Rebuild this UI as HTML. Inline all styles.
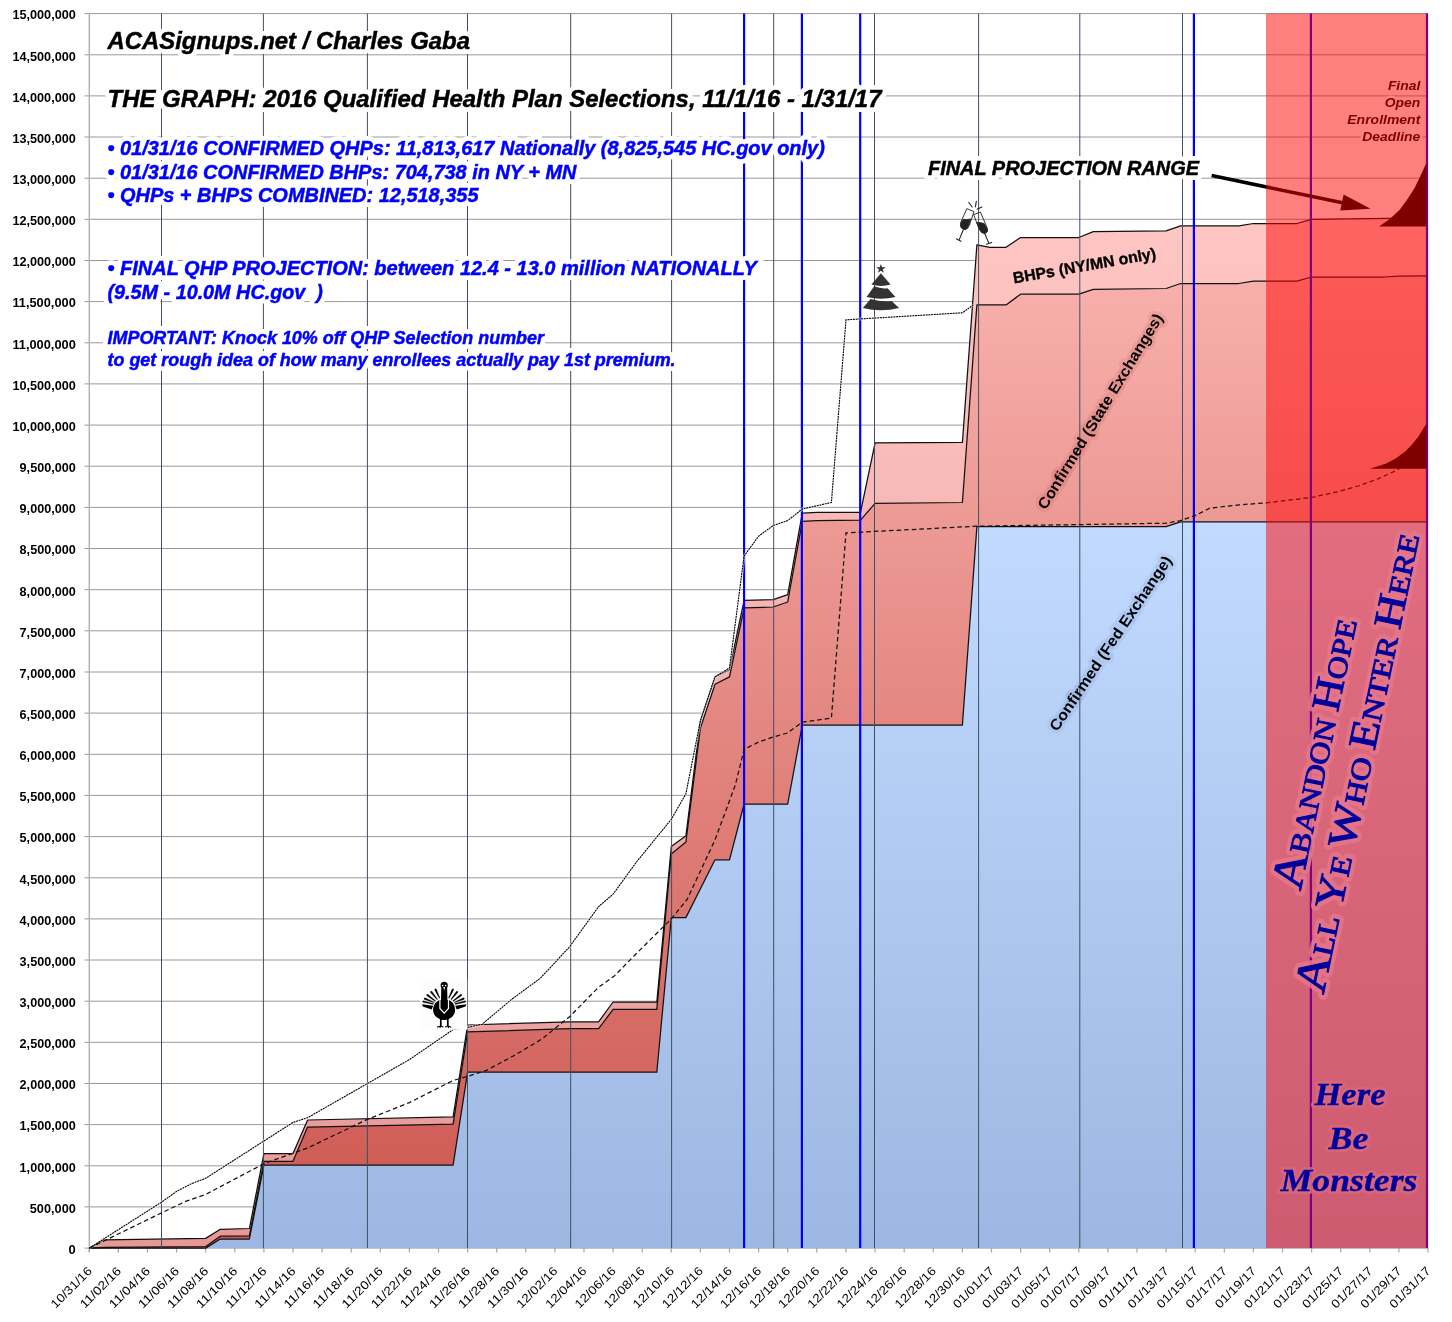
<!DOCTYPE html>
<html><head><meta charset="utf-8"><title>THE GRAPH</title>
<style>
html,body{margin:0;padding:0;background:#fff}
svg{display:block}
text{font-family:"Liberation Sans",Arial,sans-serif}
.yl{font-weight:bold;font-size:12.1px;fill:#000;text-anchor:end}
.xl{font-size:12px;fill:#000;text-anchor:end}
.halo{paint-order:stroke;stroke:#fff;stroke-width:7px;stroke-linejoin:round}
.bi{font-weight:bold;font-style:italic}
.pir{font-family:"Liberation Serif","DejaVu Serif",serif;font-weight:bold;fill:#00009b}
</style></head><body>
<svg width="1452" height="1322" viewBox="0 0 1452 1322">
<defs>
<linearGradient id="gb" x1="0" y1="0" x2="0" y2="1"><stop offset="0" stop-color="#c2dafe"/><stop offset="1" stop-color="#9cb7e2"/></linearGradient>
<linearGradient id="gr" x1="0" y1="0" x2="0" y2="1"><stop offset="0" stop-color="#f8b0ac"/><stop offset="1" stop-color="#cc564f"/></linearGradient>
<linearGradient id="gp" x1="0" y1="0" x2="0" y2="1"><stop offset="0" stop-color="#fec6c3"/><stop offset="1" stop-color="#e79896"/></linearGradient>
</defs>
<rect width="1452" height="1322" fill="#fff"/>

<line x1="84.5" y1="1248.1" x2="1428" y2="1248.1" stroke="#9a9a9a" stroke-width="1"/>
<line x1="84.5" y1="1206.9" x2="1428" y2="1206.9" stroke="#9a9a9a" stroke-width="1"/>
<line x1="84.5" y1="1165.8" x2="1428" y2="1165.8" stroke="#9a9a9a" stroke-width="1"/>
<line x1="84.5" y1="1124.6" x2="1428" y2="1124.6" stroke="#9a9a9a" stroke-width="1"/>
<line x1="84.5" y1="1083.5" x2="1428" y2="1083.5" stroke="#9a9a9a" stroke-width="1"/>
<line x1="84.5" y1="1042.3" x2="1428" y2="1042.3" stroke="#9a9a9a" stroke-width="1"/>
<line x1="84.5" y1="1001.2" x2="1428" y2="1001.2" stroke="#9a9a9a" stroke-width="1"/>
<line x1="84.5" y1="960.0" x2="1428" y2="960.0" stroke="#9a9a9a" stroke-width="1"/>
<line x1="84.5" y1="918.9" x2="1428" y2="918.9" stroke="#9a9a9a" stroke-width="1"/>
<line x1="84.5" y1="877.8" x2="1428" y2="877.8" stroke="#9a9a9a" stroke-width="1"/>
<line x1="84.5" y1="836.6" x2="1428" y2="836.6" stroke="#9a9a9a" stroke-width="1"/>
<line x1="84.5" y1="795.4" x2="1428" y2="795.4" stroke="#9a9a9a" stroke-width="1"/>
<line x1="84.5" y1="754.3" x2="1428" y2="754.3" stroke="#9a9a9a" stroke-width="1"/>
<line x1="84.5" y1="713.1" x2="1428" y2="713.1" stroke="#9a9a9a" stroke-width="1"/>
<line x1="84.5" y1="672.0" x2="1428" y2="672.0" stroke="#9a9a9a" stroke-width="1"/>
<line x1="84.5" y1="630.8" x2="1428" y2="630.8" stroke="#9a9a9a" stroke-width="1"/>
<line x1="84.5" y1="589.7" x2="1428" y2="589.7" stroke="#9a9a9a" stroke-width="1"/>
<line x1="84.5" y1="548.5" x2="1428" y2="548.5" stroke="#9a9a9a" stroke-width="1"/>
<line x1="84.5" y1="507.4" x2="1428" y2="507.4" stroke="#9a9a9a" stroke-width="1"/>
<line x1="84.5" y1="466.2" x2="1428" y2="466.2" stroke="#9a9a9a" stroke-width="1"/>
<line x1="84.5" y1="425.1" x2="1428" y2="425.1" stroke="#9a9a9a" stroke-width="1"/>
<line x1="84.5" y1="383.9" x2="1428" y2="383.9" stroke="#9a9a9a" stroke-width="1"/>
<line x1="84.5" y1="342.8" x2="1428" y2="342.8" stroke="#9a9a9a" stroke-width="1"/>
<line x1="84.5" y1="301.6" x2="1428" y2="301.6" stroke="#9a9a9a" stroke-width="1"/>
<line x1="84.5" y1="260.5" x2="1428" y2="260.5" stroke="#9a9a9a" stroke-width="1"/>
<line x1="84.5" y1="219.3" x2="1428" y2="219.3" stroke="#9a9a9a" stroke-width="1"/>
<line x1="84.5" y1="178.2" x2="1428" y2="178.2" stroke="#9a9a9a" stroke-width="1"/>
<line x1="84.5" y1="137.0" x2="1428" y2="137.0" stroke="#9a9a9a" stroke-width="1"/>
<line x1="84.5" y1="95.9" x2="1428" y2="95.9" stroke="#9a9a9a" stroke-width="1"/>
<line x1="84.5" y1="54.8" x2="1428" y2="54.8" stroke="#9a9a9a" stroke-width="1"/>
<line x1="84.5" y1="13.6" x2="1428" y2="13.6" stroke="#9a9a9a" stroke-width="1"/>
<line x1="89.3" y1="13" x2="89.3" y2="1252" stroke="#b0b0b0" stroke-width="1.4"/>
<line x1="89.3" y1="1248" x2="89.3" y2="1252.5" stroke="#a6a6a6" stroke-width="1.2"/>
<line x1="118.4" y1="1248" x2="118.4" y2="1252.5" stroke="#a6a6a6" stroke-width="1.2"/>
<line x1="147.5" y1="1248" x2="147.5" y2="1252.5" stroke="#a6a6a6" stroke-width="1.2"/>
<line x1="176.6" y1="1248" x2="176.6" y2="1252.5" stroke="#a6a6a6" stroke-width="1.2"/>
<line x1="205.7" y1="1248" x2="205.7" y2="1252.5" stroke="#a6a6a6" stroke-width="1.2"/>
<line x1="234.8" y1="1248" x2="234.8" y2="1252.5" stroke="#a6a6a6" stroke-width="1.2"/>
<line x1="263.9" y1="1248" x2="263.9" y2="1252.5" stroke="#a6a6a6" stroke-width="1.2"/>
<line x1="293.0" y1="1248" x2="293.0" y2="1252.5" stroke="#a6a6a6" stroke-width="1.2"/>
<line x1="322.1" y1="1248" x2="322.1" y2="1252.5" stroke="#a6a6a6" stroke-width="1.2"/>
<line x1="351.2" y1="1248" x2="351.2" y2="1252.5" stroke="#a6a6a6" stroke-width="1.2"/>
<line x1="380.3" y1="1248" x2="380.3" y2="1252.5" stroke="#a6a6a6" stroke-width="1.2"/>
<line x1="409.4" y1="1248" x2="409.4" y2="1252.5" stroke="#a6a6a6" stroke-width="1.2"/>
<line x1="438.5" y1="1248" x2="438.5" y2="1252.5" stroke="#a6a6a6" stroke-width="1.2"/>
<line x1="467.6" y1="1248" x2="467.6" y2="1252.5" stroke="#a6a6a6" stroke-width="1.2"/>
<line x1="496.7" y1="1248" x2="496.7" y2="1252.5" stroke="#a6a6a6" stroke-width="1.2"/>
<line x1="525.8" y1="1248" x2="525.8" y2="1252.5" stroke="#a6a6a6" stroke-width="1.2"/>
<line x1="554.9" y1="1248" x2="554.9" y2="1252.5" stroke="#a6a6a6" stroke-width="1.2"/>
<line x1="584.0" y1="1248" x2="584.0" y2="1252.5" stroke="#a6a6a6" stroke-width="1.2"/>
<line x1="613.1" y1="1248" x2="613.1" y2="1252.5" stroke="#a6a6a6" stroke-width="1.2"/>
<line x1="642.2" y1="1248" x2="642.2" y2="1252.5" stroke="#a6a6a6" stroke-width="1.2"/>
<line x1="671.3" y1="1248" x2="671.3" y2="1252.5" stroke="#a6a6a6" stroke-width="1.2"/>
<line x1="700.4" y1="1248" x2="700.4" y2="1252.5" stroke="#a6a6a6" stroke-width="1.2"/>
<line x1="729.5" y1="1248" x2="729.5" y2="1252.5" stroke="#a6a6a6" stroke-width="1.2"/>
<line x1="758.6" y1="1248" x2="758.6" y2="1252.5" stroke="#a6a6a6" stroke-width="1.2"/>
<line x1="787.7" y1="1248" x2="787.7" y2="1252.5" stroke="#a6a6a6" stroke-width="1.2"/>
<line x1="816.8" y1="1248" x2="816.8" y2="1252.5" stroke="#a6a6a6" stroke-width="1.2"/>
<line x1="846.0" y1="1248" x2="846.0" y2="1252.5" stroke="#a6a6a6" stroke-width="1.2"/>
<line x1="875.1" y1="1248" x2="875.1" y2="1252.5" stroke="#a6a6a6" stroke-width="1.2"/>
<line x1="904.2" y1="1248" x2="904.2" y2="1252.5" stroke="#a6a6a6" stroke-width="1.2"/>
<line x1="933.3" y1="1248" x2="933.3" y2="1252.5" stroke="#a6a6a6" stroke-width="1.2"/>
<line x1="962.4" y1="1248" x2="962.4" y2="1252.5" stroke="#a6a6a6" stroke-width="1.2"/>
<line x1="991.5" y1="1248" x2="991.5" y2="1252.5" stroke="#a6a6a6" stroke-width="1.2"/>
<line x1="1020.6" y1="1248" x2="1020.6" y2="1252.5" stroke="#a6a6a6" stroke-width="1.2"/>
<line x1="1049.7" y1="1248" x2="1049.7" y2="1252.5" stroke="#a6a6a6" stroke-width="1.2"/>
<line x1="1078.8" y1="1248" x2="1078.8" y2="1252.5" stroke="#a6a6a6" stroke-width="1.2"/>
<line x1="1107.9" y1="1248" x2="1107.9" y2="1252.5" stroke="#a6a6a6" stroke-width="1.2"/>
<line x1="1137.0" y1="1248" x2="1137.0" y2="1252.5" stroke="#a6a6a6" stroke-width="1.2"/>
<line x1="1166.1" y1="1248" x2="1166.1" y2="1252.5" stroke="#a6a6a6" stroke-width="1.2"/>
<line x1="1195.2" y1="1248" x2="1195.2" y2="1252.5" stroke="#a6a6a6" stroke-width="1.2"/>
<line x1="1224.3" y1="1248" x2="1224.3" y2="1252.5" stroke="#a6a6a6" stroke-width="1.2"/>
<line x1="1253.4" y1="1248" x2="1253.4" y2="1252.5" stroke="#a6a6a6" stroke-width="1.2"/>
<line x1="1282.5" y1="1248" x2="1282.5" y2="1252.5" stroke="#a6a6a6" stroke-width="1.2"/>
<line x1="1311.6" y1="1248" x2="1311.6" y2="1252.5" stroke="#a6a6a6" stroke-width="1.2"/>
<line x1="1340.7" y1="1248" x2="1340.7" y2="1252.5" stroke="#a6a6a6" stroke-width="1.2"/>
<line x1="1369.8" y1="1248" x2="1369.8" y2="1252.5" stroke="#a6a6a6" stroke-width="1.2"/>
<line x1="1398.9" y1="1248" x2="1398.9" y2="1252.5" stroke="#a6a6a6" stroke-width="1.2"/>
<line x1="1428.0" y1="1248" x2="1428.0" y2="1252.5" stroke="#a6a6a6" stroke-width="1.2"/>
<polygon points="89.3,1248.1 103.9,1239.9 205.7,1238.4 220.3,1229.3 249.4,1228.5 263.9,1153.6 293.0,1153.5 307.6,1120.0 453.1,1116.9 467.6,1025.0 569.5,1021.8 598.6,1021.8 613.1,1002.0 656.8,1002.0 671.3,846.5 685.9,835.8 700.4,720.6 715.0,676.9 729.5,669.5 744.1,600.4 773.2,599.6 787.7,594.6 802.3,513.2 816.8,512.3 860.5,512.3 875.1,442.8 962.4,442.4 976.9,244.9 990.0,247.3 1006.0,247.3 1020.6,237.5 1078.8,237.5 1093.3,231.7 1166.1,230.9 1180.6,225.9 1238.8,225.9 1253.4,223.5 1297.0,223.5 1311.6,219.3 1428.0,217.9 1428.0,275.8 1398.9,276.1 1384.3,277.0 1311.6,277.0 1297.0,281.1 1253.4,281.1 1238.8,283.5 1180.6,283.5 1166.1,288.5 1093.3,289.3 1078.8,294.2 1020.6,294.2 1006.0,304.9 976.9,304.9 962.4,502.5 875.1,503.3 860.5,520.2 816.8,520.6 802.3,521.4 787.7,602.0 773.2,607.0 744.1,607.8 729.5,676.9 715.0,684.3 700.4,728.0 685.9,842.0 671.3,853.9 656.8,1009.4 613.1,1009.4 598.6,1028.7 569.5,1028.7 467.6,1031.8 453.1,1124.1 307.6,1127.1 293.0,1161.3 263.9,1161.3 249.4,1235.8 220.3,1236.2 205.7,1246.5 103.9,1247.3 89.3,1248.1" fill="url(#gp)"/>
<polygon points="89.3,1248.1 103.9,1247.3 205.7,1246.5 220.3,1236.2 249.4,1235.8 263.9,1161.3 293.0,1161.3 307.6,1127.1 453.1,1124.1 467.6,1031.8 569.5,1028.7 598.6,1028.7 613.1,1009.4 656.8,1009.4 671.3,853.9 685.9,842.0 700.4,728.0 715.0,684.3 729.5,676.9 744.1,607.8 773.2,607.0 787.7,602.0 802.3,521.4 816.8,520.6 860.5,520.2 875.1,503.3 962.4,502.5 976.9,304.9 1006.0,304.9 1020.6,294.2 1078.8,294.2 1093.3,289.3 1166.1,288.5 1180.6,283.5 1238.8,283.5 1253.4,281.1 1297.0,281.1 1311.6,277.0 1384.3,277.0 1398.9,276.1 1428.0,275.8 1428.0,521.8 1180.6,521.8 1166.1,526.6 976.9,526.6 962.4,725.0 802.3,725.0 787.7,804.0 744.1,804.0 729.5,859.8 715.0,859.8 685.9,917.6 671.3,917.6 656.8,1072.2 467.6,1072.2 453.1,1165.1 263.9,1165.1 249.4,1239.0 220.3,1239.0 205.7,1248.1 89.3,1248.1" fill="url(#gr)"/>
<polygon points="89.3,1248.1 205.7,1248.1 220.3,1239.0 249.4,1239.0 263.9,1165.1 453.1,1165.1 467.6,1072.2 656.8,1072.2 671.3,917.6 685.9,917.6 715.0,859.8 729.5,859.8 744.1,804.0 787.7,804.0 802.3,725.0 962.4,725.0 976.9,526.6 1166.1,526.6 1180.6,521.8 1428.0,521.8 1428.0,1248.1 89.3,1248.1" fill="url(#gb)"/>
<polyline points="89.3,1248.1 103.9,1239.9 205.7,1238.4 220.3,1229.3 249.4,1228.5 263.9,1153.6 293.0,1153.5 307.6,1120.0 453.1,1116.9 467.6,1025.0 569.5,1021.8 598.6,1021.8 613.1,1002.0 656.8,1002.0 671.3,846.5 685.9,835.8 700.4,720.6 715.0,676.9 729.5,669.5 744.1,600.4 773.2,599.6 787.7,594.6 802.3,513.2 816.8,512.3 860.5,512.3 875.1,442.8 962.4,442.4 976.9,244.9 990.0,247.3 1006.0,247.3 1020.6,237.5 1078.8,237.5 1093.3,231.7 1166.1,230.9 1180.6,225.9 1238.8,225.9 1253.4,223.5 1297.0,223.5 1311.6,219.3 1428.0,217.9" fill="none" stroke="#111" stroke-width="1.25" stroke-linejoin="round"/>
<polyline points="89.3,1248.1 103.9,1247.3 205.7,1246.5 220.3,1236.2 249.4,1235.8 263.9,1161.3 293.0,1161.3 307.6,1127.1 453.1,1124.1 467.6,1031.8 569.5,1028.7 598.6,1028.7 613.1,1009.4 656.8,1009.4 671.3,853.9 685.9,842.0 700.4,728.0 715.0,684.3 729.5,676.9 744.1,607.8 773.2,607.0 787.7,602.0 802.3,521.4 816.8,520.6 860.5,520.2 875.1,503.3 962.4,502.5 976.9,304.9 1006.0,304.9 1020.6,294.2 1078.8,294.2 1093.3,289.3 1166.1,288.5 1180.6,283.5 1238.8,283.5 1253.4,281.1 1297.0,281.1 1311.6,277.0 1384.3,277.0 1398.9,276.1 1428.0,275.8" fill="none" stroke="#111" stroke-width="1.25" stroke-linejoin="round"/>
<polyline points="89.3,1248.1 205.7,1248.1 220.3,1239.0 249.4,1239.0 263.9,1165.1 453.1,1165.1 467.6,1072.2 656.8,1072.2 671.3,917.6 685.9,917.6 715.0,859.8 729.5,859.8 744.1,804.0 787.7,804.0 802.3,725.0 962.4,725.0 976.9,526.6 1166.1,526.6 1180.6,521.8 1428.0,521.8" fill="none" stroke="#111" stroke-width="1.25" stroke-linejoin="round"/>
<line x1="161.5" y1="13.6" x2="161.5" y2="1248" stroke="#3f4f63" stroke-width="1"/>
<line x1="263.4" y1="13.6" x2="263.4" y2="1248" stroke="#3f4f63" stroke-width="1"/>
<line x1="367.4" y1="13.6" x2="367.4" y2="1248" stroke="#3f4f63" stroke-width="1"/>
<line x1="467.5" y1="13.6" x2="467.5" y2="1248" stroke="#3f4f63" stroke-width="1"/>
<line x1="570.7" y1="13.6" x2="570.7" y2="1248" stroke="#3f4f63" stroke-width="1"/>
<line x1="671.6" y1="13.6" x2="671.6" y2="1248" stroke="#3f4f63" stroke-width="1"/>
<line x1="773.7" y1="13.6" x2="773.7" y2="1248" stroke="#3f4f63" stroke-width="1"/>
<line x1="874.5" y1="13.6" x2="874.5" y2="1248" stroke="#3f4f63" stroke-width="1"/>
<line x1="978.6" y1="13.6" x2="978.6" y2="1248" stroke="#3f4f63" stroke-width="1"/>
<line x1="1079.8" y1="13.6" x2="1079.8" y2="1248" stroke="#3f4f63" stroke-width="1"/>
<line x1="1182.5" y1="13.6" x2="1182.5" y2="1248" stroke="#3f4f63" stroke-width="1"/>
<line x1="744.1" y1="13.6" x2="744.1" y2="1248" stroke="#0000ff" stroke-width="2.2"/>
<line x1="801.9" y1="13.6" x2="801.9" y2="1248" stroke="#0000ff" stroke-width="2.2"/>
<line x1="860.2" y1="13.6" x2="860.2" y2="1248" stroke="#0000ff" stroke-width="2.2"/>
<line x1="1193.9" y1="13.6" x2="1193.9" y2="1248" stroke="#0000ff" stroke-width="2.2"/>
<line x1="1310.9" y1="13.6" x2="1310.9" y2="1248" stroke="#0000ff" stroke-width="2.2"/>
<line x1="1427.0" y1="13.6" x2="1427.0" y2="1248" stroke="#0000ff" stroke-width="2.2"/>
<polyline points="89.3,1248.1 162.1,1201.8 176.6,1191.4 191.2,1183.8 205.7,1178.3 293.0,1122.4 307.6,1117.7 409.4,1059.6 453.1,1029.6 467.6,1027.5 482.2,1024.2 511.3,999.6 540.4,978.2 569.5,946.9 598.6,906.6 613.1,894.2 636.4,862.1 671.3,819.3 685.9,793.8 700.4,720.6 715.0,676.9 729.5,667.9 744.1,556.0 758.6,536.2 773.2,525.5 787.7,520.6 802.3,509.0 831.4,502.5 846.0,319.8 962.4,312.8 973.3,304.9" fill="none" stroke="#fff" stroke-width="3" opacity="0.5"/>
<polyline points="89.3,1248.1 162.1,1201.8 176.6,1191.4 191.2,1183.8 205.7,1178.3 293.0,1122.4 307.6,1117.7 409.4,1059.6 453.1,1029.6 467.6,1027.5 482.2,1024.2 511.3,999.6 540.4,978.2 569.5,946.9 598.6,906.6 613.1,894.2 636.4,862.1 671.3,819.3 685.9,793.8 700.4,720.6 715.0,676.9 729.5,667.9 744.1,556.0 758.6,536.2 773.2,525.5 787.7,520.6 802.3,509.0 831.4,502.5 846.0,319.8 962.4,312.8 973.3,304.9" fill="none" stroke="#000" stroke-width="1.1" stroke-dasharray="2,0.7"/>
<polyline points="89.3,1248.1 162.1,1212.6 186.1,1201.2 205.7,1194.4 263.9,1163.7 307.6,1148.0 368.0,1119.1 409.4,1102.6 453.1,1080.5 467.6,1076.4 486.5,1070.3 514.2,1055.5 541.8,1039.1 569.5,1016.8 598.6,987.2 614.6,975.7 636.4,953.5 671.3,918.9 687.3,899.1 715.0,839.9 735.4,784.8 744.1,749.4 758.6,742.0 773.2,737.0 787.7,732.9 802.3,722.2 831.4,718.1 846.0,532.9 976.9,526.2 1166.1,523.2 1180.6,520.6 1195.2,515.6 1209.7,508.2 1238.8,504.9 1266.5,502.8 1311.6,497.5 1337.2,491.8 1358.0,486.0 1378.5,478.6 1397.4,470.0 1413.4,458.0 1425.8,445.7" fill="none" stroke="#111" stroke-width="1.25" stroke-dasharray="4.6,3"/>
<path d="M1379.1,226.6 L1390.1,218.7 L1399.9,209.6 L1407.5,199 L1414.3,188.4 L1419.6,177.8 L1426.5,162.5 L1426.5,226.6 Z" fill="#000"/>
<path d="M1370,468.7 L1386.3,463.5 L1396,458.2 L1405.2,451.4 L1412,444.6 L1418.1,437.1 L1426.5,423.5 L1426.5,468.7 Z" fill="#000"/>
<line x1="1211.6" y1="175.5" x2="1352" y2="204.8" stroke="#000" stroke-width="3.5"/>
<polygon points="1370.6,208.8 1340.3,210.4 1343.6,194.6" fill="#000"/>
<text x="1420.3" y="90.4" class="bi halo" style="font-size:13.6px;stroke-width:5px" text-anchor="end" fill="#000" textLength="32.4" lengthAdjust="spacingAndGlyphs">Final</text>
<text x="1420.3" y="107.3" class="bi halo" style="font-size:13.6px;stroke-width:5px" text-anchor="end" fill="#000" textLength="35.6" lengthAdjust="spacingAndGlyphs">Open</text>
<text x="1420.3" y="124.2" class="bi halo" style="font-size:13.6px;stroke-width:5px" text-anchor="end" fill="#000" textLength="73" lengthAdjust="spacingAndGlyphs">Enrollment</text>
<text x="1420.3" y="141.1" class="bi halo" style="font-size:13.6px;stroke-width:5px" text-anchor="end" fill="#000" textLength="58" lengthAdjust="spacingAndGlyphs">Deadline</text>
<rect x="1266" y="13.6" width="162" height="1234.5" fill="#ff0000" fill-opacity="0.5"/>
<text x="75.8" y="1253.9" class="yl" textLength="7.2" lengthAdjust="spacingAndGlyphs">0</text>
<text x="75.8" y="1212.7" class="yl" textLength="46.0" lengthAdjust="spacingAndGlyphs">500,000</text>
<text x="75.8" y="1171.6" class="yl" textLength="56.2" lengthAdjust="spacingAndGlyphs">1,000,000</text>
<text x="75.8" y="1130.4" class="yl" textLength="56.2" lengthAdjust="spacingAndGlyphs">1,500,000</text>
<text x="75.8" y="1089.3" class="yl" textLength="56.2" lengthAdjust="spacingAndGlyphs">2,000,000</text>
<text x="75.8" y="1048.1" class="yl" textLength="56.2" lengthAdjust="spacingAndGlyphs">2,500,000</text>
<text x="75.8" y="1007.0" class="yl" textLength="56.2" lengthAdjust="spacingAndGlyphs">3,000,000</text>
<text x="75.8" y="965.8" class="yl" textLength="56.2" lengthAdjust="spacingAndGlyphs">3,500,000</text>
<text x="75.8" y="924.7" class="yl" textLength="56.2" lengthAdjust="spacingAndGlyphs">4,000,000</text>
<text x="75.8" y="883.5" class="yl" textLength="56.2" lengthAdjust="spacingAndGlyphs">4,500,000</text>
<text x="75.8" y="842.4" class="yl" textLength="56.2" lengthAdjust="spacingAndGlyphs">5,000,000</text>
<text x="75.8" y="801.2" class="yl" textLength="56.2" lengthAdjust="spacingAndGlyphs">5,500,000</text>
<text x="75.8" y="760.1" class="yl" textLength="56.2" lengthAdjust="spacingAndGlyphs">6,000,000</text>
<text x="75.8" y="718.9" class="yl" textLength="56.2" lengthAdjust="spacingAndGlyphs">6,500,000</text>
<text x="75.8" y="677.8" class="yl" textLength="56.2" lengthAdjust="spacingAndGlyphs">7,000,000</text>
<text x="75.8" y="636.6" class="yl" textLength="56.2" lengthAdjust="spacingAndGlyphs">7,500,000</text>
<text x="75.8" y="595.5" class="yl" textLength="56.2" lengthAdjust="spacingAndGlyphs">8,000,000</text>
<text x="75.8" y="554.3" class="yl" textLength="56.2" lengthAdjust="spacingAndGlyphs">8,500,000</text>
<text x="75.8" y="513.2" class="yl" textLength="56.2" lengthAdjust="spacingAndGlyphs">9,000,000</text>
<text x="75.8" y="472.0" class="yl" textLength="56.2" lengthAdjust="spacingAndGlyphs">9,500,000</text>
<text x="75.8" y="430.9" class="yl" textLength="63.4" lengthAdjust="spacingAndGlyphs">10,000,000</text>
<text x="75.8" y="389.7" class="yl" textLength="63.4" lengthAdjust="spacingAndGlyphs">10,500,000</text>
<text x="75.8" y="348.6" class="yl" textLength="63.4" lengthAdjust="spacingAndGlyphs">11,000,000</text>
<text x="75.8" y="307.4" class="yl" textLength="63.4" lengthAdjust="spacingAndGlyphs">11,500,000</text>
<text x="75.8" y="266.3" class="yl" textLength="63.4" lengthAdjust="spacingAndGlyphs">12,000,000</text>
<text x="75.8" y="225.1" class="yl" textLength="63.4" lengthAdjust="spacingAndGlyphs">12,500,000</text>
<text x="75.8" y="184.0" class="yl" textLength="63.4" lengthAdjust="spacingAndGlyphs">13,000,000</text>
<text x="75.8" y="142.8" class="yl" textLength="63.4" lengthAdjust="spacingAndGlyphs">13,500,000</text>
<text x="75.8" y="101.7" class="yl" textLength="63.4" lengthAdjust="spacingAndGlyphs">14,000,000</text>
<text x="75.8" y="60.5" class="yl" textLength="63.4" lengthAdjust="spacingAndGlyphs">14,500,000</text>
<text x="75.8" y="19.4" class="yl" textLength="63.4" lengthAdjust="spacingAndGlyphs">15,000,000</text>
<text class="xl" transform="translate(92.7,1271.8) rotate(-45)" textLength="52.5" lengthAdjust="spacingAndGlyphs">10/31/16</text>
<text class="xl" transform="translate(121.8,1271.8) rotate(-45)" textLength="52.5" lengthAdjust="spacingAndGlyphs">11/02/16</text>
<text class="xl" transform="translate(150.9,1271.8) rotate(-45)" textLength="52.5" lengthAdjust="spacingAndGlyphs">11/04/16</text>
<text class="xl" transform="translate(180.0,1271.8) rotate(-45)" textLength="52.5" lengthAdjust="spacingAndGlyphs">11/06/16</text>
<text class="xl" transform="translate(209.1,1271.8) rotate(-45)" textLength="52.5" lengthAdjust="spacingAndGlyphs">11/08/16</text>
<text class="xl" transform="translate(238.2,1271.8) rotate(-45)" textLength="52.5" lengthAdjust="spacingAndGlyphs">11/10/16</text>
<text class="xl" transform="translate(267.3,1271.8) rotate(-45)" textLength="52.5" lengthAdjust="spacingAndGlyphs">11/12/16</text>
<text class="xl" transform="translate(296.4,1271.8) rotate(-45)" textLength="52.5" lengthAdjust="spacingAndGlyphs">11/14/16</text>
<text class="xl" transform="translate(325.5,1271.8) rotate(-45)" textLength="52.5" lengthAdjust="spacingAndGlyphs">11/16/16</text>
<text class="xl" transform="translate(354.6,1271.8) rotate(-45)" textLength="52.5" lengthAdjust="spacingAndGlyphs">11/18/16</text>
<text class="xl" transform="translate(383.7,1271.8) rotate(-45)" textLength="52.5" lengthAdjust="spacingAndGlyphs">11/20/16</text>
<text class="xl" transform="translate(412.8,1271.8) rotate(-45)" textLength="52.5" lengthAdjust="spacingAndGlyphs">11/22/16</text>
<text class="xl" transform="translate(441.9,1271.8) rotate(-45)" textLength="52.5" lengthAdjust="spacingAndGlyphs">11/24/16</text>
<text class="xl" transform="translate(471.0,1271.8) rotate(-45)" textLength="52.5" lengthAdjust="spacingAndGlyphs">11/26/16</text>
<text class="xl" transform="translate(500.1,1271.8) rotate(-45)" textLength="52.5" lengthAdjust="spacingAndGlyphs">11/28/16</text>
<text class="xl" transform="translate(529.2,1271.8) rotate(-45)" textLength="52.5" lengthAdjust="spacingAndGlyphs">11/30/16</text>
<text class="xl" transform="translate(558.3,1271.8) rotate(-45)" textLength="52.5" lengthAdjust="spacingAndGlyphs">12/02/16</text>
<text class="xl" transform="translate(587.4,1271.8) rotate(-45)" textLength="52.5" lengthAdjust="spacingAndGlyphs">12/04/16</text>
<text class="xl" transform="translate(616.5,1271.8) rotate(-45)" textLength="52.5" lengthAdjust="spacingAndGlyphs">12/06/16</text>
<text class="xl" transform="translate(645.6,1271.8) rotate(-45)" textLength="52.5" lengthAdjust="spacingAndGlyphs">12/08/16</text>
<text class="xl" transform="translate(674.7,1271.8) rotate(-45)" textLength="52.5" lengthAdjust="spacingAndGlyphs">12/10/16</text>
<text class="xl" transform="translate(703.8,1271.8) rotate(-45)" textLength="52.5" lengthAdjust="spacingAndGlyphs">12/12/16</text>
<text class="xl" transform="translate(732.9,1271.8) rotate(-45)" textLength="52.5" lengthAdjust="spacingAndGlyphs">12/14/16</text>
<text class="xl" transform="translate(762.0,1271.8) rotate(-45)" textLength="52.5" lengthAdjust="spacingAndGlyphs">12/16/16</text>
<text class="xl" transform="translate(791.1,1271.8) rotate(-45)" textLength="52.5" lengthAdjust="spacingAndGlyphs">12/18/16</text>
<text class="xl" transform="translate(820.2,1271.8) rotate(-45)" textLength="52.5" lengthAdjust="spacingAndGlyphs">12/20/16</text>
<text class="xl" transform="translate(849.4,1271.8) rotate(-45)" textLength="52.5" lengthAdjust="spacingAndGlyphs">12/22/16</text>
<text class="xl" transform="translate(878.5,1271.8) rotate(-45)" textLength="52.5" lengthAdjust="spacingAndGlyphs">12/24/16</text>
<text class="xl" transform="translate(907.6,1271.8) rotate(-45)" textLength="52.5" lengthAdjust="spacingAndGlyphs">12/26/16</text>
<text class="xl" transform="translate(936.7,1271.8) rotate(-45)" textLength="52.5" lengthAdjust="spacingAndGlyphs">12/28/16</text>
<text class="xl" transform="translate(965.8,1271.8) rotate(-45)" textLength="52.5" lengthAdjust="spacingAndGlyphs">12/30/16</text>
<text class="xl" transform="translate(994.9,1271.8) rotate(-45)" textLength="52.5" lengthAdjust="spacingAndGlyphs">01/01/17</text>
<text class="xl" transform="translate(1024.0,1271.8) rotate(-45)" textLength="52.5" lengthAdjust="spacingAndGlyphs">01/03/17</text>
<text class="xl" transform="translate(1053.1,1271.8) rotate(-45)" textLength="52.5" lengthAdjust="spacingAndGlyphs">01/05/17</text>
<text class="xl" transform="translate(1082.2,1271.8) rotate(-45)" textLength="52.5" lengthAdjust="spacingAndGlyphs">01/07/17</text>
<text class="xl" transform="translate(1111.3,1271.8) rotate(-45)" textLength="52.5" lengthAdjust="spacingAndGlyphs">01/09/17</text>
<text class="xl" transform="translate(1140.4,1271.8) rotate(-45)" textLength="52.5" lengthAdjust="spacingAndGlyphs">01/11/17</text>
<text class="xl" transform="translate(1169.5,1271.8) rotate(-45)" textLength="52.5" lengthAdjust="spacingAndGlyphs">01/13/17</text>
<text class="xl" transform="translate(1198.6,1271.8) rotate(-45)" textLength="52.5" lengthAdjust="spacingAndGlyphs">01/15/17</text>
<text class="xl" transform="translate(1227.7,1271.8) rotate(-45)" textLength="52.5" lengthAdjust="spacingAndGlyphs">01/17/17</text>
<text class="xl" transform="translate(1256.8,1271.8) rotate(-45)" textLength="52.5" lengthAdjust="spacingAndGlyphs">01/19/17</text>
<text class="xl" transform="translate(1285.9,1271.8) rotate(-45)" textLength="52.5" lengthAdjust="spacingAndGlyphs">01/21/17</text>
<text class="xl" transform="translate(1315.0,1271.8) rotate(-45)" textLength="52.5" lengthAdjust="spacingAndGlyphs">01/23/17</text>
<text class="xl" transform="translate(1344.1,1271.8) rotate(-45)" textLength="52.5" lengthAdjust="spacingAndGlyphs">01/25/17</text>
<text class="xl" transform="translate(1373.2,1271.8) rotate(-45)" textLength="52.5" lengthAdjust="spacingAndGlyphs">01/27/17</text>
<text class="xl" transform="translate(1402.3,1271.8) rotate(-45)" textLength="52.5" lengthAdjust="spacingAndGlyphs">01/29/17</text>
<text class="xl" transform="translate(1431.4,1271.8) rotate(-45)" textLength="52.5" lengthAdjust="spacingAndGlyphs">01/31/17</text>
<text x="107.5" y="49.0" xml:space="preserve" class="bi" style="font-size:24px;fill:none;stroke:#fff;stroke-width:10px;stroke-linejoin:round" textLength="362.5" lengthAdjust="spacingAndGlyphs">ACASignups.net / Charles Gaba</text>
<text x="107.5" y="49.0" xml:space="preserve" class="bi" style="font-size:24px;stroke:#000;stroke-width:0.45px" fill="#000" textLength="362.5" lengthAdjust="spacingAndGlyphs">ACASignups.net / Charles Gaba</text>
<text x="107.5" y="107.0" xml:space="preserve" class="bi" style="font-size:24px;fill:none;stroke:#fff;stroke-width:10px;stroke-linejoin:round" textLength="774.0" lengthAdjust="spacingAndGlyphs">THE GRAPH: 2016 Qualified Health Plan Selections, 11/1/16 - 1/31/17</text>
<text x="107.5" y="107.0" xml:space="preserve" class="bi" style="font-size:24px;stroke:#000;stroke-width:0.45px" fill="#000" textLength="774.0" lengthAdjust="spacingAndGlyphs">THE GRAPH: 2016 Qualified Health Plan Selections, 11/1/16 - 1/31/17</text>
<text x="107.5" y="154.7" xml:space="preserve" class="bi" style="font-size:19.5px;fill:none;stroke:#fff;stroke-width:10px;stroke-linejoin:round" textLength="717.3" lengthAdjust="spacingAndGlyphs">• 01/31/16 CONFIRMED QHPs: 11,813,617 Nationally (8,825,545 HC.gov only)</text>
<text x="107.5" y="154.7" xml:space="preserve" class="bi" style="font-size:19.5px;stroke:#0000ff;stroke-width:0.45px" fill="#0000ff" textLength="717.3" lengthAdjust="spacingAndGlyphs">• 01/31/16 CONFIRMED QHPs: 11,813,617 Nationally (8,825,545 HC.gov only)</text>
<text x="107.5" y="178.6" xml:space="preserve" class="bi" style="font-size:19.5px;fill:none;stroke:#fff;stroke-width:10px;stroke-linejoin:round" textLength="469.0" lengthAdjust="spacingAndGlyphs">• 01/31/16 CONFIRMED BHPs: 704,738 in NY + MN</text>
<text x="107.5" y="178.6" xml:space="preserve" class="bi" style="font-size:19.5px;stroke:#0000ff;stroke-width:0.45px" fill="#0000ff" textLength="469.0" lengthAdjust="spacingAndGlyphs">• 01/31/16 CONFIRMED BHPs: 704,738 in NY + MN</text>
<text x="107.5" y="202.4" xml:space="preserve" class="bi" style="font-size:19.5px;fill:none;stroke:#fff;stroke-width:10px;stroke-linejoin:round" textLength="371.0" lengthAdjust="spacingAndGlyphs">• QHPs + BHPS COMBINED: 12,518,355</text>
<text x="107.5" y="202.4" xml:space="preserve" class="bi" style="font-size:19.5px;stroke:#0000ff;stroke-width:0.45px" fill="#0000ff" textLength="371.0" lengthAdjust="spacingAndGlyphs">• QHPs + BHPS COMBINED: 12,518,355</text>
<text x="107.5" y="274.8" xml:space="preserve" class="bi" style="font-size:19.5px;fill:none;stroke:#fff;stroke-width:10px;stroke-linejoin:round" textLength="649.3" lengthAdjust="spacingAndGlyphs">• FINAL QHP PROJECTION: between 12.4 - 13.0 million NATIONALLY</text>
<text x="107.5" y="274.8" xml:space="preserve" class="bi" style="font-size:19.5px;stroke:#0000ff;stroke-width:0.45px" fill="#0000ff" textLength="649.3" lengthAdjust="spacingAndGlyphs">• FINAL QHP PROJECTION: between 12.4 - 13.0 million NATIONALLY</text>
<text x="107.5" y="299.3" xml:space="preserve" class="bi" style="font-size:19.5px;fill:none;stroke:#fff;stroke-width:10px;stroke-linejoin:round" textLength="215.4" lengthAdjust="spacingAndGlyphs">(9.5M - 10.0M HC.gov  )</text>
<text x="107.5" y="299.3" xml:space="preserve" class="bi" style="font-size:19.5px;stroke:#0000ff;stroke-width:0.45px" fill="#0000ff" textLength="215.4" lengthAdjust="spacingAndGlyphs">(9.5M - 10.0M HC.gov  )</text>
<text x="107.5" y="343.8" xml:space="preserve" class="bi" style="font-size:17.5px;fill:none;stroke:#fff;stroke-width:10px;stroke-linejoin:round" textLength="436.5" lengthAdjust="spacingAndGlyphs">IMPORTANT: Knock 10% off QHP Selection number</text>
<text x="107.5" y="343.8" xml:space="preserve" class="bi" style="font-size:17.5px;stroke:#0000ff;stroke-width:0.45px" fill="#0000ff" textLength="436.5" lengthAdjust="spacingAndGlyphs">IMPORTANT: Knock 10% off QHP Selection number</text>
<text x="107.5" y="365.8" xml:space="preserve" class="bi" style="font-size:17.5px;fill:none;stroke:#fff;stroke-width:10px;stroke-linejoin:round" textLength="568.1" lengthAdjust="spacingAndGlyphs">to get rough idea of how many enrollees actually pay 1st premium.</text>
<text x="107.5" y="365.8" xml:space="preserve" class="bi" style="font-size:17.5px;stroke:#0000ff;stroke-width:0.45px" fill="#0000ff" textLength="568.1" lengthAdjust="spacingAndGlyphs">to get rough idea of how many enrollees actually pay 1st premium.</text>
<text x="928.0" y="174.9" xml:space="preserve" class="bi" style="font-size:19.8px;fill:none;stroke:#fff;stroke-width:10px;stroke-linejoin:round" textLength="271.0" lengthAdjust="spacingAndGlyphs">FINAL PROJECTION RANGE</text>
<text x="928.0" y="174.9" xml:space="preserve" class="bi" style="font-size:19.8px;stroke:#000;stroke-width:0.45px" fill="#000" textLength="271.0" lengthAdjust="spacingAndGlyphs">FINAL PROJECTION RANGE</text>
<text transform="translate(1014.0,283.5) rotate(-9.95)" style="font-size:15.8px;font-weight:bold;stroke:#000;stroke-width:0.35px" fill="#000">BHPs (NY/MN only)</text>
<text transform="translate(1045.8,510.6) rotate(-58.6)" style="font-size:15.3px;font-weight:bold;paint-order:stroke;stroke:#a03030;stroke-opacity:.09;stroke-width:7px;stroke-linejoin:round" fill="#000" textLength="226" lengthAdjust="spacingAndGlyphs">Confirmed (State Exchanges)</text>
<text transform="translate(1057.3,732.2) rotate(-56.2)" style="font-size:15.3px;font-weight:bold;paint-order:stroke;stroke:#5070b0;stroke-opacity:.09;stroke-width:7px;stroke-linejoin:round" fill="#000" textLength="207" lengthAdjust="spacingAndGlyphs">Confirmed (Fed Exchange)</text>
<text class="pir" xml:space="preserve" transform="translate(1300.5,891.5) rotate(-78.2)" style="fill:none;stroke:#e5778a;stroke-opacity:.85;stroke-width:9px;stroke-linejoin:round;font-weight:normal" textLength="276" lengthAdjust="spacingAndGlyphs"><tspan style="font-size:45px">A</tspan><tspan style="font-size:28px">BANDON</tspan><tspan style="font-size:28px"> </tspan><tspan style="font-size:40px">H</tspan><tspan style="font-size:28px">OPE</tspan></text>
<text class="pir" xml:space="preserve" transform="translate(1300.5,891.5) rotate(-78.2)" style="font-weight:normal;stroke:#00009b;stroke-width:0.9px" textLength="276" lengthAdjust="spacingAndGlyphs"><tspan style="font-size:45px">A</tspan><tspan style="font-size:28px">BANDON</tspan><tspan style="font-size:28px"> </tspan><tspan style="font-size:40px">H</tspan><tspan style="font-size:28px">OPE</tspan></text>
<text class="pir" xml:space="preserve" transform="translate(1323.5,995) rotate(-78.2)" style="fill:none;stroke:#e5778a;stroke-opacity:.85;stroke-width:9px;stroke-linejoin:round;font-weight:normal" textLength="469" lengthAdjust="spacingAndGlyphs"><tspan style="font-size:45px">A</tspan><tspan style="font-size:28px">LL</tspan><tspan style="font-size:28px"> </tspan><tspan style="font-size:40px">Y</tspan><tspan style="font-size:28px">E</tspan><tspan style="font-size:28px"> </tspan><tspan style="font-size:40px">W</tspan><tspan style="font-size:28px">HO</tspan><tspan style="font-size:28px"> </tspan><tspan style="font-size:40px">E</tspan><tspan style="font-size:28px">NTER</tspan><tspan style="font-size:28px"> </tspan><tspan style="font-size:40px">H</tspan><tspan style="font-size:28px">ERE</tspan></text>
<text class="pir" xml:space="preserve" transform="translate(1323.5,995) rotate(-78.2)" style="font-weight:normal;stroke:#00009b;stroke-width:0.9px" textLength="469" lengthAdjust="spacingAndGlyphs"><tspan style="font-size:45px">A</tspan><tspan style="font-size:28px">LL</tspan><tspan style="font-size:28px"> </tspan><tspan style="font-size:40px">Y</tspan><tspan style="font-size:28px">E</tspan><tspan style="font-size:28px"> </tspan><tspan style="font-size:40px">W</tspan><tspan style="font-size:28px">HO</tspan><tspan style="font-size:28px"> </tspan><tspan style="font-size:40px">E</tspan><tspan style="font-size:28px">NTER</tspan><tspan style="font-size:28px"> </tspan><tspan style="font-size:40px">H</tspan><tspan style="font-size:28px">ERE</tspan></text>
<text class="pir" x="1350" y="1104.8" style="font-style:italic;font-size:31px;text-anchor:middle;fill:none;stroke:#da667a;stroke-opacity:.85;stroke-width:6px;stroke-linejoin:round" textLength="71" lengthAdjust="spacingAndGlyphs">Here</text>
<text class="pir" x="1350" y="1104.8" style="font-style:italic;font-size:31px;text-anchor:middle;stroke:#00009b;stroke-width:0.3px" textLength="71" lengthAdjust="spacingAndGlyphs">Here</text>
<text class="pir" x="1348.5" y="1149" style="font-style:italic;font-size:31px;text-anchor:middle;fill:none;stroke:#da667a;stroke-opacity:.85;stroke-width:6px;stroke-linejoin:round" textLength="40" lengthAdjust="spacingAndGlyphs">Be</text>
<text class="pir" x="1348.5" y="1149" style="font-style:italic;font-size:31px;text-anchor:middle;stroke:#00009b;stroke-width:0.3px" textLength="40" lengthAdjust="spacingAndGlyphs">Be</text>
<text class="pir" x="1349" y="1191.2" style="font-style:italic;font-size:31px;text-anchor:middle;fill:none;stroke:#da667a;stroke-opacity:.85;stroke-width:6px;stroke-linejoin:round" textLength="137" lengthAdjust="spacingAndGlyphs">Monsters</text>
<text class="pir" x="1349" y="1191.2" style="font-style:italic;font-size:31px;text-anchor:middle;stroke:#00009b;stroke-width:0.3px" textLength="137" lengthAdjust="spacingAndGlyphs">Monsters</text>
<g transform="translate(444.2,1009.7)"><rect x="-24" y="-30" width="47" height="50" fill="#fdfdfd"/><polygon points="-4.24,-11.77 -7.89,-20.59 -9.09,-21.01 -9.51,-19.81 -4.96,-11.43" fill="#000" stroke="#000" stroke-width="0.25" stroke-linejoin="round"/><polygon points="-6.59,-10.35 -12.29,-18.36 -13.56,-18.51 -13.71,-17.24 -7.21,-9.85" fill="#000" stroke="#000" stroke-width="0.25" stroke-linejoin="round"/><polygon points="-8.56,-8.92 -16.36,-15.42 -17.62,-15.24 -17.44,-13.98 -9.04,-8.28" fill="#000" stroke="#000" stroke-width="0.25" stroke-linejoin="round"/><polygon points="-9.85,-7.57 -19.16,-11.93 -20.33,-11.44 -19.84,-10.27 -10.15,-6.83" fill="#000" stroke="#000" stroke-width="0.25" stroke-linejoin="round"/><polygon points="-10.70,-6.09 -20.79,-9.07 -21.87,-8.41 -21.21,-7.33 -10.90,-5.31" fill="#000" stroke="#000" stroke-width="0.25" stroke-linejoin="round"/><polygon points="-11.10,-3.90 -22.10,-5.40 -21.40,-3.30 -12.50,-0.20" fill="#000"/><polygon points="4.24,-11.77 7.89,-20.59 9.09,-21.01 9.51,-19.81 4.96,-11.43" fill="#000" stroke="#000" stroke-width="0.25" stroke-linejoin="round"/><polygon points="6.59,-10.35 12.29,-18.36 13.56,-18.51 13.71,-17.24 7.21,-9.85" fill="#000" stroke="#000" stroke-width="0.25" stroke-linejoin="round"/><polygon points="8.56,-8.92 16.36,-15.42 17.62,-15.24 17.44,-13.98 9.04,-8.28" fill="#000" stroke="#000" stroke-width="0.25" stroke-linejoin="round"/><polygon points="9.85,-7.57 19.16,-11.93 20.33,-11.44 19.84,-10.27 10.15,-6.83" fill="#000" stroke="#000" stroke-width="0.25" stroke-linejoin="round"/><polygon points="10.70,-6.09 20.79,-9.07 21.87,-8.41 21.21,-7.33 10.90,-5.31" fill="#000" stroke="#000" stroke-width="0.25" stroke-linejoin="round"/><polygon points="11.10,-3.90 22.10,-5.40 21.40,-3.30 12.50,-0.20" fill="#000"/><path d="M-4.6,-9.6 C-9,-8 -11.2,-3.5 -11.1,0.5 C-11,6 -6,10.2 0,10.2 C6,10.2 11,6 10.9,0.5 C10.9,-3.5 9,-8 4.6,-9.6 Z" fill="#000"/><path d="M-2.9,-24 L-3.4,-1.6 L0,2.2 L3.4,-1.6 L2.9,-24 Z" fill="#000"/><path d="M-4.3,-10 L-4.3,-1.3 L0,3.4 L4.3,-1.3 L4.3,-10" fill="none" stroke="#fff" stroke-width="1.2"/><ellipse cx="0" cy="-24.4" rx="3.6" ry="3.6" fill="#000"/><circle cx="-1.5" cy="-24.2" r="0.85" fill="#fff"/><circle cx="1.5" cy="-24.2" r="0.85" fill="#fff"/><path d="M-0.9,-22.6 L0.9,-22.6 L0,-19.2 Z" fill="#fff"/><path d="M-3.4,8.7 L-3.4,16.4 M3.6,8.7 L3.6,16.4" stroke="#000" stroke-width="1.7" fill="none"/><path d="M-6.8,17.4 L-3.4,16.3 L-1.2,17.2 M-3.4,16.3 L-4.2,17.9 M6.6,17.4 L3.6,16.3 L1.3,17.2 M3.6,16.3 L4.4,17.9" stroke="#000" stroke-width="1.1" stroke-linecap="round" fill="none"/></g>
<g fill="#333"><polygon points="880.9,263.9 882.1,267.2 885.6,267.3 882.8,269.4 883.8,272.8 880.9,270.8 878.0,272.8 879.0,269.4 876.2,267.3 879.7,267.2"/><path d="M880.9,273.2 L890.6,284.6 Q880.9,287.5 871.4,284.6 Z"/><path d="M874.2,286.3 Q880.9,289 887.6,288.2 L895.5,297 Q880.9,300.6 866.5,297 Z"/><path d="M870.5,299 Q880.9,302 891.6,301 L899.1,308 Q880.9,312.5 862.9,308 Z"/></g>
<g stroke="#222" stroke-width="0.9" fill="none" stroke-linecap="round" stroke-linejoin="round"><path d="M967.2,208.8 L974.0,211.6 L969.3,225.5 Q967.2,230.6 963.3,229.2 Q959.3,227.6 960.8,222.3 Z"/><path d="M963.3,219.5 Q967,220.2 970.6,219 L968.6,225.5 Q967,230.4 963.3,229.0 Q959.6,227.6 961.2,222.6 Z" fill="#222"/><path d="M963.2,230 L959.2,239.6 M956.3,238.8 L960.9,241.3" stroke-width="1.1"/><path d="M974.0,214.5 L980.4,212.0 L987.2,228 Q988.6,232.3 985,233.3 Q981.3,234 979.5,229.8 Z"/><path d="M977.0,222.6 Q981,222.3 984.2,223.6 L986.8,228.4 Q988.4,232.2 985,233.1 Q981.5,233.8 979.9,229.8 Z" fill="#222"/><path d="M984.6,233.3 L988.8,243.1 M986.5,244.2 L991.7,242.4" stroke-width="1.1"/><path d="M968.8,202.5 L972.2,207 M976.3,201.4 L975.4,206.8 M977.2,209.3 L981.8,207" stroke-width="1.1"/></g>
</svg></body></html>
